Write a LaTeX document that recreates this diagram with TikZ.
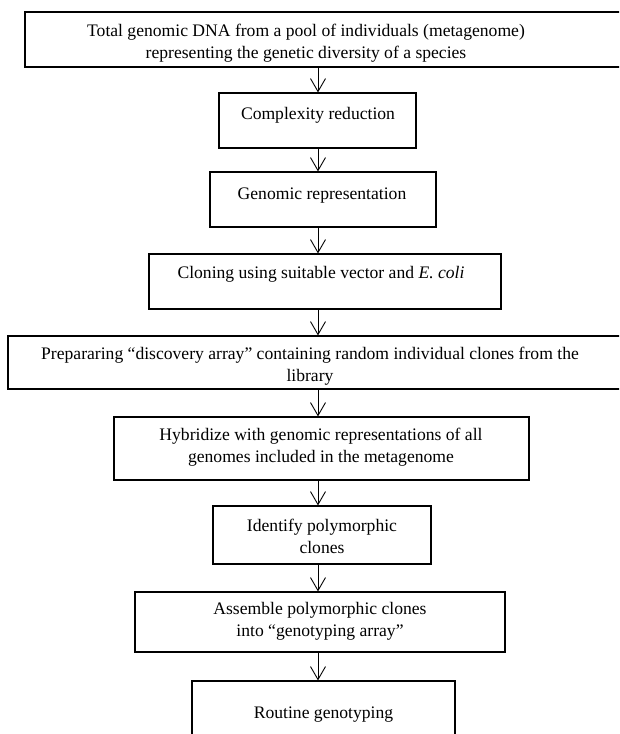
\documentclass[tikz,border=0pt]{standalone}
\usepackage{fontspec}
\setmainfont{Liberation Serif}
\usetikzlibrary{arrows.meta}
\begin{document}
\begin{tikzpicture}[x=1pt,y=-1pt,
  box/.style={draw=black, line width=1.1pt, inner sep=0pt},
  txt/.style={anchor=north, align=center, inner sep=0pt, font=\fontsize{17.6}{22}\selectfont},
  arr/.style={line width=0.9pt, draw=black, -{Straight Barb[length=13pt,width=15pt,line width=0.9pt]}}]
\useasboundingbox (0,0) rectangle (619,734);
\clip (0,0) rectangle (619,734);
\fill[white] (0,0) rectangle (619,734);
\coordinate (ax) at (318,0);
% boxes
\node[box, minimum width=605pt, minimum height=55pt] (b1) at (327.5,39.5) {};
\node[box, minimum width=197pt, minimum height=55pt] (b2) at (317.5,120.5) {};
\node[box, minimum width=226pt, minimum height=55pt] (b3) at (323,199.5) {};
\node[box, minimum width=352pt, minimum height=55pt] (b4) at (325,281.5) {};
\node[box, minimum width=622pt, minimum height=53pt] (b5) at (319,362.5) {};
\node[box, minimum width=415pt, minimum height=63pt] (b6) at (321.5,448.5) {};
\node[box, minimum width=218pt, minimum height=58pt] (b7) at (322,535) {};
\node[box, minimum width=370pt, minimum height=60pt] (b8) at (320,622) {};
\node[box, minimum width=263pt, minimum height=69pt] (b9) at (323.5,715.5) {};
% texts
\node[txt] (t1) at (306,21) {\strut Total genomic DNA from a pool of individuals (metagenome)\\representing the genetic diversity of a species};
\node[txt] (t2) at (318,104) {\strut Complexity reduction};
\node[txt] (t3) at (322,184) {\strut Genomic representation};
\node[txt] (t4) at (321,263) {\strut Cloning using suitable vector and \textit{E. coli}};
\node[txt] (t5) at (310,344) {\strut Prepararing “discovery array” containing random individual clones from the\\library};
\node[txt] (t6) at (321,425) {\strut Hybridize with genomic representations of all\\genomes included in the metagenome};
\node[txt] (t7) at (322,516) {\strut Identify polymorphic\\clones};
\node[txt] (t8) at (320,599) {\strut Assemble polymorphic clones\\into “genotyping array”};
\node[txt] (t9) at (323.5,703) {\strut Routine genotyping};
% arrows
\draw[arr] (b1.south -| ax) -- (b2.north -| ax);
\draw[arr] (b2.south -| ax) -- (b3.north -| ax);
\draw[arr] (b3.south -| ax) -- (b4.north -| ax);
\draw[arr] (b4.south -| ax) -- (b5.north -| ax);
\draw[arr] (b5.south -| ax) -- (b6.north -| ax);
\draw[arr] (b6.south -| ax) -- (b7.north -| ax);
\draw[arr] (b7.south -| ax) -- (b8.north -| ax);
\draw[arr] (b8.south -| ax) -- (b9.north -| ax);
\end{tikzpicture}
\end{document}
